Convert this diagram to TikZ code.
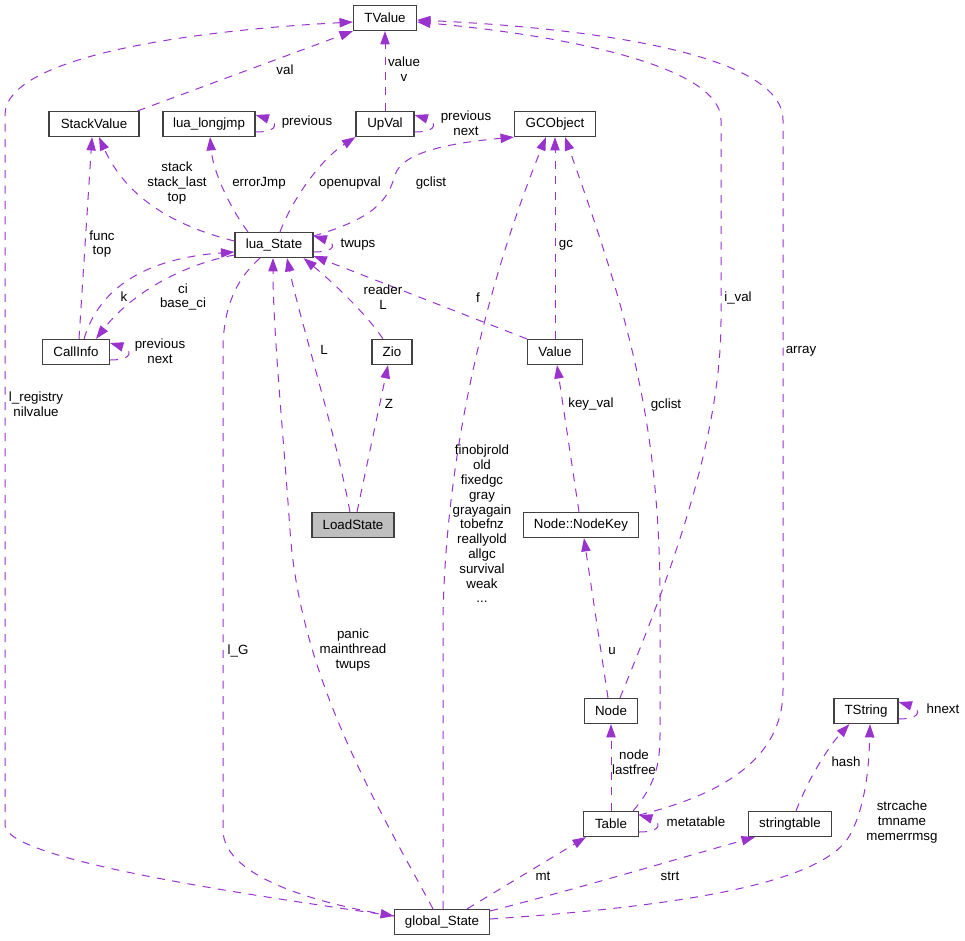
\documentclass[tikz,border=0pt]{standalone}
\usepackage{fontspec}
\setmainfont{Liberation Sans}
\usetikzlibrary{arrows.meta,calc}
\definecolor{edgecol}{HTML}{9A32CD}
\definecolor{boxline}{HTML}{404040}
\definecolor{boxfill}{HTML}{BFBFBF}
\tikzset{
  cls/.style={draw=boxline, fill=white, line width=0.9pt, minimum height=18.75pt, inner sep=0pt, font=\fontsize{10}{12}\selectfont},
  rel/.style={draw=edgecol, line width=0.75pt, dash pattern=on 6pt off 5.6pt, -{Triangle[length=10pt,width=7pt]}},
  lbl/.style={inner sep=0pt, align=center, font=\fontsize{10}{11.1}\selectfont}
}
\begin{document}
\begin{tikzpicture}[x=0.75pt,y=-0.75pt]
\useasboundingbox (0,0) rectangle (965,940);
% nodes
\node[cls,minimum width=47.25pt] (tv) at (385,18) {TValue};
\node[cls,minimum width=67.5pt] (sv) at (94,124) {StackValue};
\node[cls,minimum width=69pt] (lj) at (209,124) {lua\_longjmp};
\node[cls,minimum width=43.5pt] (uv) at (385,124) {UpVal};
\node[cls,minimum width=60.75pt] (gco) at (555,124) {GCObject};
\node[cls,minimum width=58.5pt] (ls) at (274,245) {lua\_State};
\node[cls,minimum width=50.25pt] (ci) at (76,352) {CallInfo};
\node[cls,minimum width=30pt] (zio) at (392,352) {Zio};
\node[cls,minimum width=41.25pt] (val) at (555,352) {Value};
\node[cls,minimum width=61.5pt,fill=boxfill] (lds) at (353,525) {LoadState};
\node[cls,minimum width=86.25pt] (nk) at (581,525) {Node::NodeKey};
\node[cls,minimum width=39.75pt] (nd) at (611,711) {Node};
\node[cls,minimum width=48pt] (ts) at (866,711) {TString};
\node[cls,minimum width=41.25pt] (tb) at (611,824) {Table};
\node[cls,minimum width=62.25pt] (st) at (790,824) {stringtable};
\node[cls,minimum width=71.25pt] (gs) at (442,922) {global\_State};
% edges
\draw[rel] ($(sv.north east)+(-2,0)$) -- (tv.south west);
\draw[rel] (uv.north) -- (tv.south);
\draw[rel] ($(gs.west)+(0,-6)$) .. controls (250,895) and (5,860) .. (5,825) -- (5,115) .. controls (5,55) and (200,30) .. ($(tv.west)+(0,4)$);
\draw[rel] ($(ls.west)+(0,-4)$) .. controls (170,225) and (125,195) .. ($(sv.south)+(5,0)$);
\draw[rel] ($(ls.north)+(-26,0)$) .. controls (228,205) and (213,170) .. ($(lj.south)+(1,0)$);
\draw[rel] ($(lj.east)+(0,8)$) .. controls +(26,0) and +(20,6) .. ($(lj.east)+(0,-9)$);
\draw[rel] ($(ls.north)+(6,0)$) .. controls (292,200) and (320,160) .. (uv.south west);
\draw[rel] ($(uv.east)+(0,8)$) .. controls +(26,0) and +(20,6) .. ($(uv.east)+(0,-9)$);
\draw[rel] ($(ls.east)+(0,-9)$) .. controls (375,218) and (388,200) .. (395,175) .. controls (402,152) and (450,143) .. (gco.south west);
\draw[rel] ($(ls.east)+(0,7)$) .. controls +(26,0) and +(20,6) .. ($(ls.east)+(0,-9)$);
\draw[rel] ($(ls.west)+(0,10)$) .. controls (180,265) and (130,295) .. ($(ci.north)+(20,0)$);
\draw[rel] ($(ci.north)+(8,0)$) .. controls (100,285) and (150,258) .. ($(ls.west)+(0,7)$);
\draw[rel] ($(ci.north)+(3,0)$) -- ($(sv.south)+(-2,0)$);
\draw[rel] ($(ci.east)+(0,8)$) .. controls +(26,0) and +(20,6) .. ($(ci.east)+(0,-9)$);
\draw[rel] ($(zio.north)+(-9,0)$) .. controls (365,312) and (330,280) .. ($(ls.south east)+(-10,0)$);
\draw[rel] ($(lds.north)+(-3,0)$) .. controls (335,430) and (300,320) .. ($(ls.south)+(13,0)$);
\draw[rel] ($(lds.north)+(4,0)$) -- ($(zio.south)+(-4,0)$);
\draw[rel] (val.north west) -- ($(ls.east)+(0,11)$);
\draw[rel] (val.north) -- (gco.south);
\draw[rel] ($(gs.north)+(1,0)$) -- (443,620) .. controls (445,470) and (480,300) .. ($(gco.south)+(-9,0)$);
\draw[rel] ($(tb.north east)+(-6,0)$) .. controls (655,785) and (660,765) .. (660,735) -- (660,620) .. controls (662,430) and (630,320) .. ($(gco.south)+(10,0)$);
\draw[rel] ($(nk.north)+(-2,0)$) -- ($(val.south)+(2,0)$);
\draw[rel] ($(nd.north)+(-3,0)$) -- ($(nk.south)+(3,0)$);
\draw[rel] ($(nd.north)+(9,0)$) .. controls (660,600) and (721,450) .. (721,320) -- (721,120) .. controls (721,65) and (560,35) .. ($(tv.east)+(0,4)$);
\draw[rel] ($(tb.east)+(0,-9)$) .. controls (720,795) and (783,760) .. (783,690) -- (783,120) .. controls (783,50) and (570,27) .. ($(tv.east)+(0,2)$);
\draw[rel] (tb.north) -- (nd.south);
\draw[rel] ($(tb.east)+(0,8)$) .. controls +(26,0) and +(20,6) .. ($(tb.east)+(0,-9)$);
\draw[rel] ($(gs.north east)+(-23,0)$) -- ($(tb.south west)+(3,0)$);
\draw[rel] ($(gs.east)+(0,-11)$) .. controls (580,888) and (680,858) .. ($(st.south west)+(7,0)$);
\draw[rel] ($(gs.east)+(0,-3)$) .. controls (700,905) and (825,880) .. (850,835) .. controls (866,805) and (869,765) .. ($(ts.south)+(4,0)$);
\draw[rel] ($(st.north)+(6,0)$) .. controls (810,775) and (830,745) .. ($(ts.south west)+(16,0)$);
\draw[rel] ($(ts.east)+(0,8)$) .. controls +(26,0) and +(20,6) .. ($(ts.east)+(0,-9)$);
\draw[rel] ($(ls.south)+(-14,0)$) .. controls (235,280) and (223,310) .. (223,350) -- (223,830) .. controls (223,880) and (330,905) .. ($(gs.west)+(0,-6)$);
\draw[rel] ($(gs.north)+(-9,0)$) .. controls (380,810) and (300,680) .. (290,530) .. controls (283,430) and (273,330) .. ($(ls.south)+(-1,0)$);
% labels
\node[lbl] (l1) at (285,70) {val};
\node[lbl] (l2) at (404,69) {value\\v};
\node[lbl] (l3) at (307,122) {previous};
\node[lbl] (l4) at (466,123) {previous\\next};
\node[lbl] (l5) at (177,183) {stack\\stack\_last\\top};
\node[lbl] (l6) at (259,183) {errorJmp};
\node[lbl] (l7) at (350,183) {openupval};
\node[lbl] (l8) at (431,183) {gclist};
\node[lbl] (l9) at (102,244) {func\\top};
\node[lbl] (l10) at (358,245) {twups};
\node[lbl] (l11) at (124,297) {k};
\node[lbl] (l12) at (183,297) {ci\\base\_ci};
\node[lbl] (l13) at (383,297) {reader\\L};
\node[lbl] (l14) at (478,298) {f};
\node[lbl] (l15) at (566,245) {gc};
\node[lbl] (l16) at (160,351) {previous\\next};
\node[lbl] (l17) at (324,350) {L};
\node[lbl] (l18) at (389,404) {Z};
\node[lbl] (l19) at (591,404) {key\_val};
\node[lbl] (l20) at (666,405) {gclist};
\node[lbl] (l21) at (738,298) {i\_val};
\node[lbl] (l22) at (801,351) {array};
\node[lbl] (l23) at (36,404) {l\_registry\\nilvalue};
\node[lbl] (l24) at (482,524) {finobjrold\\old\\fixedgc\\gray\\grayagain\\tobefnz\\reallyold\\allgc\\survival\\weak\\...};
\node[lbl] (l25) at (238,651) {l\_G};
\node[lbl] (l26) at (353,650) {panic\\mainthread\\twups};
\node[lbl] (l27) at (612,651) {u};
\node[lbl] (l28) at (943,709) {hnext};
\node[lbl] (l29) at (634,762) {node\\lastfree};
\node[lbl] (l30) at (846,762) {hash};
\node[lbl] (l31) at (696,822) {metatable};
\node[lbl] (l32) at (902,822) {strcache\\tmname\\memerrmsg};
\node[lbl] (l33) at (543,876) {mt};
\node[lbl] (l34) at (670,876) {strt};
\end{tikzpicture}
\end{document}
